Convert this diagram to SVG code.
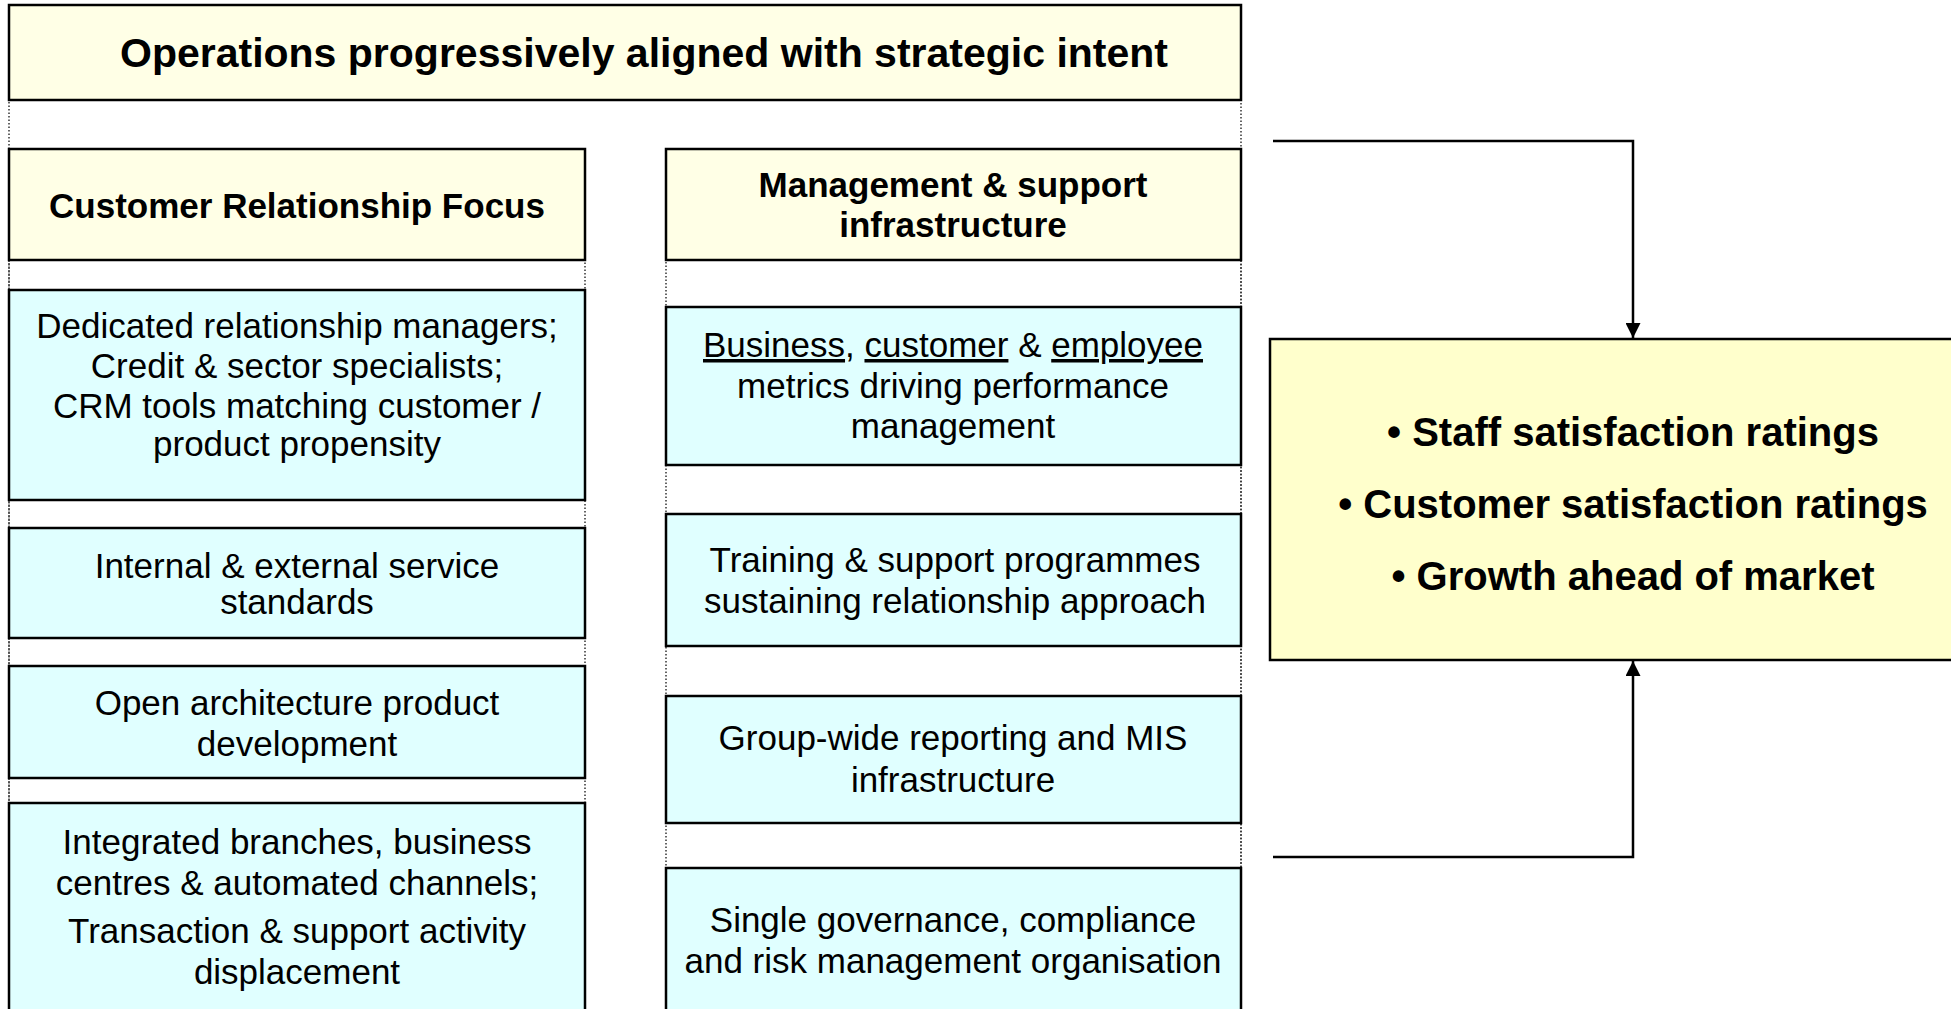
<svg xmlns="http://www.w3.org/2000/svg" width="1951" height="1009" viewBox="0 0 1951 1009">
<defs>
<style>
.frame{fill:none;stroke:#333;stroke-width:1.5;stroke-dasharray:1.5 2}
.hdr{fill:#FFFFE6;stroke:#000;stroke-width:2.5}
.item{fill:#E0FFFF;stroke:#000;stroke-width:2.5}
.res{fill:#FFFFCC;stroke:#000;stroke-width:2.5}
.conn{fill:none;stroke:#000;stroke-width:2.5}
text{font-family:"Liberation Sans",Arial,sans-serif;fill:#000;text-anchor:middle}
.t{font-size:41px;font-weight:bold}
.h{font-size:35px;font-weight:bold}
.b{font-size:35px}
.r{font-size:40px;font-weight:bold}
</style>
<marker id="arr" viewBox="0 0 10 10" refX="10" refY="5" markerWidth="7" markerHeight="6" markerUnits="strokeWidth" orient="auto">
<path d="M0,0 L10,5 L0,10 Z" fill="#000"/>
</marker>
</defs>
<rect width="1951" height="1009" fill="#fff"/>
<g id="frames">
<rect class="frame" x="9" y="5" width="1232" height="1010"/>
<rect class="frame" x="9" y="149" width="576" height="870"/>
<rect class="frame" x="666" y="149" width="575" height="870"/>
</g>
<g id="title">
<rect class="hdr" x="9" y="5" width="1232" height="95"/>
<text class="t" x="644" y="67">Operations progressively aligned with strategic intent</text>
</g>
<g id="crf-header">
<rect class="hdr" x="9" y="149" width="576" height="111"/>
<text class="h" x="297" y="218">Customer Relationship Focus</text>
</g>
<g id="crf-1">
<rect class="item" x="9" y="290" width="576" height="210"/>
<text class="b" x="297" y="338">Dedicated relationship managers;</text>
<text class="b" x="297" y="378">Credit &amp; sector specialists;</text>
<text class="b" x="297" y="418">CRM tools matching customer /</text>
<text class="b" x="297" y="456">product propensity</text>
</g>
<g id="crf-2">
<rect class="item" x="9" y="528" width="576" height="110"/>
<text class="b" x="297" y="578">Internal &amp; external service</text>
<text class="b" x="297" y="614">standards</text>
</g>
<g id="crf-3">
<rect class="item" x="9" y="666" width="576" height="112"/>
<text class="b" x="297" y="715">Open architecture product</text>
<text class="b" x="297" y="756">development</text>
</g>
<g id="crf-4">
<rect class="item" x="9" y="803" width="576" height="220"/>
<text class="b" x="297" y="854">Integrated branches, business</text>
<text class="b" x="297" y="895">centres &amp; automated channels;</text>
<text class="b" x="297" y="943">Transaction &amp; support activity</text>
<text class="b" x="297" y="984">displacement</text>
</g>
<g id="msi-header">
<rect class="hdr" x="666" y="149" width="575" height="111"/>
<text class="h" x="953" y="197">Management &amp; support</text>
<text class="h" x="953" y="237">infrastructure</text>
</g>
<g id="msi-1">
<rect class="item" x="666" y="307" width="575" height="158"/>
<text class="b" x="953" y="357"><tspan text-decoration="underline">Business</tspan>, <tspan text-decoration="underline">customer</tspan> &amp; <tspan text-decoration="underline">employee</tspan></text>
<text class="b" x="953" y="398">metrics driving performance</text>
<text class="b" x="953" y="438">management</text>
</g>
<g id="msi-2">
<rect class="item" x="666" y="514" width="575" height="132"/>
<text class="b" x="955" y="572">Training &amp; support programmes</text>
<text class="b" x="955" y="613">sustaining relationship approach</text>
</g>
<g id="msi-3">
<rect class="item" x="666" y="696" width="575" height="127"/>
<text class="b" x="953" y="750">Group-wide reporting and MIS</text>
<text class="b" x="953" y="792">infrastructure</text>
</g>
<g id="msi-4">
<rect class="item" x="666" y="868" width="575" height="150"/>
<text class="b" x="953" y="932">Single governance, compliance</text>
<text class="b" x="953" y="973">and risk management organisation</text>
</g>
<g id="results">
<rect class="res" x="1270" y="339" width="690" height="321"/>
<text class="r" x="1633" y="446">• Staff satisfaction ratings</text>
<text class="r" x="1633" y="518">• Customer satisfaction ratings</text>
<text class="r" x="1633" y="590">• Growth ahead of market</text>
</g>
<g id="connectors">
<path class="conn" d="M1273,141 H1633 V338" marker-end="url(#arr)"/>
<path class="conn" d="M1273,857 H1633 V661" marker-end="url(#arr)"/>
</g>
</svg>
